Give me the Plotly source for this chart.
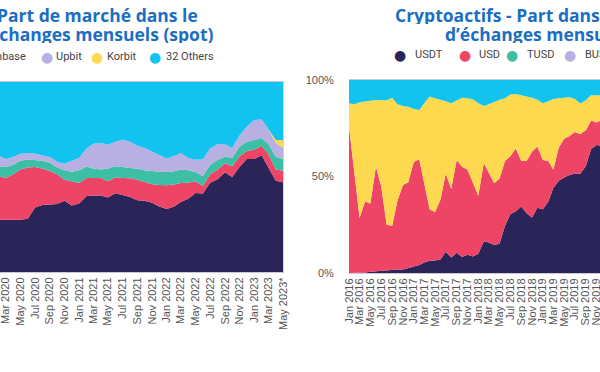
import plotly.graph_objects as go
import pandas as pd

# ---------------- data: left chart (exchange market share, spot) ----------------
left_months = pd.date_range("2020-01-01", "2023-05-01", freq="MS")
left_names = ["Binance", "Huobi", "Coinbase", "Upbit", "Korbit", "32 Others"]
binance = [27.5, 27.5, 27.8, 27.5, 27.5, 28.0, 34.0, 35.2, 35.5, 35.8, 37.5, 35.0, 36.0, 40.0,
           40.3, 40.3, 39.2, 41.5, 40.5, 39.5, 37.8, 37.5, 36.5, 34.5, 33.2, 34.5, 36.8, 38.5,
           41.6, 41.3, 47.0, 48.8, 52.5, 50.0, 55.4, 59.5, 59.5, 61.5, 55.0, 48.0, 47.2]
huobi = [23.0, 22.9, 21.7, 24.0, 26.5, 27.0, 21.2, 19.3, 17.7, 15.7, 11.0, 12.7, 10.8, 9.5,
         9.2, 9.2, 8.5, 8.3, 9.0, 9.8, 10.7, 9.8, 9.7, 11.3, 12.4, 11.5, 10.0, 8.5,
         6.1, 4.0, 4.5, 5.0, 4.7, 5.6, 5.4, 4.2, 4.8, 5.0, 7.0, 6.0, 6.1]
coinbase = [6.0, 5.6, 5.7, 5.0, 4.5, 4.2, 3.8, 4.0, 4.3, 3.5, 5.0, 5.1, 6.7, 6.0,
            5.0, 4.5, 6.8, 5.8, 5.7, 5.5, 5.8, 6.2, 6.8, 7.0, 7.0, 7.0, 7.1, 6.5,
            4.8, 5.2, 5.0, 5.2, 3.6, 4.4, 5.2, 4.8, 5.2, 4.0, 5.5, 6.5, 6.2]
upbit = [4.5, 5.0, 4.3, 4.0, 3.8, 3.4, 3.3, 3.0, 3.0, 3.0, 3.5, 5.8, 6.5, 9.5,
         13.0, 13.9, 12.5, 12.9, 14.4, 13.7, 12.2, 11.8, 10.5, 9.0, 7.2, 8.0, 8.7, 6.5,
         6.6, 8.7, 8.5, 8.4, 6.4, 5.3, 6.0, 8.0, 10.5, 9.7, 7.5, 7.5, 5.8]
korbit = [0, 0, 0, 0, 0, 0, 0, 0, 0, 0, 0, 0, 0, 0,
          0, 0, 0, 0, 0, 0, 0, 0, 0, 0, 0, 0, 0, 0,
          0, 0, 0, 0, 0, 0, 0, 0, 0, 0, 0, 1.5, 4.0]
others32 = [39.0, 39.0, 40.5, 39.5, 37.7, 37.4, 37.7, 38.5, 39.5, 42.0, 43.0, 41.4, 40.0, 35.0,
            32.5, 32.1, 33.0, 31.5, 30.4, 31.5, 33.5, 34.7, 36.5, 38.2, 40.2, 39.0, 37.4, 40.0,
            40.9, 40.8, 35.0, 32.6, 32.8, 34.7, 28.0, 23.5, 20.0, 19.8, 25.0, 30.5, 30.7]
left_ticks = pd.date_range("2020-03-01", "2023-05-01", freq="2MS")
left_ticktext = ["Mar 2020", "May 2020", "Jul 2020", "Sep 2020", "Nov 2020", "Jan 2021", "Mar 2021",
                 "May 2021", "Jul 2021", "Sep 2021", "Nov 2021", "Jan 2022", "Mar 2022", "May 2022",
                 "Jul 2022", "Sep 2022", "Nov 2022", "Jan 2023", "Mar 2023", "May 2023*"]

# ---------------- data: right chart (crypto assets share) ----------------
right_months = pd.date_range("2016-01-01", "2019-12-01", freq="MS")
right_names = ["USDT", "USD", "TUSD", "BUSD", "Autres devises", "Autres"]
usdt = [0, 0, 0, 0.3, 0.6, 0.9, 1.0, 1.2, 1.5, 1.8, 1.8, 2.5, 3.3, 4.2, 5.5, 6.4,
        6.5, 7.0, 11.0, 8.0, 10.5, 8.3, 9.5, 8.5, 10.0, 16.5, 15.8, 14.5, 15.2, 24.5, 30.5, 32.0,
        34.5, 31.0, 28.8, 33.8, 33.0, 37.0, 44.0, 47.8, 49.5, 50.8, 51.6, 51.4, 55.5, 64.2, 66.3, 66.0]
usd = [75.8, 50.0, 28.5, 36.7, 35.4, 54.1, 44.0, 23.8, 23.0, 35.7, 43.8, 44.5, 54.2, 54.8, 41.0, 26.6,
       25.0, 31.0, 40.6, 35.5, 48.0, 46.7, 44.0, 38.5, 30.0, 40.5, 36.2, 32.0, 33.8, 33.5, 30.0, 32.5,
       23.5, 27.0, 34.2, 31.7, 25.5, 21.0, 9.5, 17.2, 20.0, 20.2, 21.4, 20.6, 18.5, 14.8, 11.7, 13.3]
tusd = [0, 0, 0, 0, 0, 0, 0, 0, 0, 0, 0, 0, 0, 0, 0, 0,
        0, 0, 0, 0, 0, 0, 0, 0, 0, 0, 0, 0, 0, 0, 0, 0,
        0, 0, 0, 0, 0, 0, 0, 0, 0, 0, 0, 0, 0, 0, 0, 0]
busd = [0, 0, 0, 0, 0, 0, 0, 0, 0, 0, 0, 0, 0, 0, 0, 0,
        0, 0, 0, 0, 0, 0, 0, 0, 0, 0, 0, 0, 0, 0, 0, 0,
        0, 0, 0, 0, 0, 0, 0, 0, 0, 0, 0, 0, 0, 0, 0, 0]
other_fiat = [12.1, 37.5, 60.0, 52.1, 53.3, 34.6, 44.5, 64.5, 66.3, 50.0, 40.9, 39.2, 27.5, 25.5, 41.5, 58.4,
              59.0, 51.8, 37.4, 44.4, 31.0, 35.8, 37.0, 43.0, 48.0, 29.5, 35.5, 42.3, 40.8, 32.5, 32.0, 28.3,
              34.2, 33.5, 27.8, 24.3, 29.5, 31.0, 36.7, 25.5, 21.3, 20.0, 17.2, 15.8, 15.5, 13.2, 14.0, 12.9]
other = [12.1, 12.5, 11.5, 10.9, 10.7, 10.4, 10.5, 10.5, 9.2, 12.5, 13.5, 13.8, 15.0, 15.5, 12.0, 8.6,
         9.5, 10.2, 11.0, 12.1, 10.5, 9.2, 9.5, 10.0, 12.0, 13.5, 12.5, 11.2, 10.2, 9.5, 7.5, 7.2,
         7.8, 8.5, 9.2, 10.2, 12.0, 11.0, 9.8, 9.5, 9.2, 9.0, 9.8, 12.2, 10.5, 7.8, 8.0, 7.8]
right_ticks = pd.date_range("2016-01-01", "2019-11-01", freq="2MS")
right_ticktext = [d.strftime("%b %Y") for d in right_ticks]
right_yticks = [0, 50, 100]
right_yticktext = ["0%", "50%", "100%"]

# ---------------- styles ----------------
NAVY, RED, TEAL, LAV, YEL, CYAN = "#2a2459", "#ee4466", "#3cbfa4", "#b8afe2", "#fdd94f", "#12c2ef"
left_colors = [NAVY, RED, TEAL, LAV, YEL, CYAN]
right_colors = [NAVY, RED, TEAL, LAV, YEL, CYAN]
W, H = 600, 372
TITLE_BLUE = "#1b6ec2"
TICK_GREY = "#555555"


def px(x):
    return x / W


def py(y):
    return 1 - y / H


fig = go.Figure()
for name, vals, col in zip(left_names, [binance, huobi, coinbase, upbit, korbit, others32], left_colors):
    fig.add_trace(go.Scatter(x=left_months, y=vals, name=name, mode="lines", stackgroup="left",
                             groupnorm="percent", line=dict(width=0, color=col), fillcolor=col,
                             xaxis="x", yaxis="y", showlegend=False))
for name, vals, col in zip(right_names, [usdt, usd, tusd, busd, other_fiat, other], right_colors):
    fig.add_trace(go.Scatter(x=right_months, y=vals, name=name, mode="lines", stackgroup="right",
                             groupnorm="percent", line=dict(width=0, color=col), fillcolor=col,
                             xaxis="x2", yaxis="y2", showlegend=False))

tickfont = dict(family="Liberation Sans, Arial, sans-serif", size=11, color=TICK_GREY)
fig.update_layout(
    width=W, height=H, margin=dict(l=0, r=0, t=0, b=0, autoexpand=False),
    paper_bgcolor="white", plot_bgcolor="white", showlegend=False,
    xaxis=dict(domain=[0, px(283)], range=["2020-02-06", "2023-05-01"], type="date",
               tickvals=left_ticks, ticktext=left_ticktext, tickangle=-90, tickfont=tickfont,
               ticklabeloverflow="allow",
               showgrid=False, showline=True, linecolor="#c9c9c9", linewidth=1, mirror=True,
               ticks="", zeroline=False),
    yaxis=dict(domain=[py(272), py(82)], range=[0, 100], showticklabels=False, showgrid=False,
               showline=True, linecolor="#d5d5d5", mirror=True, zeroline=False, anchor="x"),
    xaxis2=dict(domain=[px(349), 1], range=["2016-01-01", "2019-11-20"], type="date",
                tickvals=right_ticks, ticktext=right_ticktext, tickangle=-90, tickfont=tickfont,
                ticklabeloverflow="allow",
                showgrid=False, showline=True, linecolor="#c9c9c9", linewidth=1, mirror=True,
                ticks="", zeroline=False, anchor="y2"),
    yaxis2=dict(domain=[py(273), py(80)], range=[0, 100], tickvals=right_yticks, ticktext=right_yticktext,
                tickfont=tickfont, showgrid=False, showline=False, zeroline=False,
                ticks="outside", ticklen=12, tickcolor="rgba(0,0,0,0)", anchor="x2"),
)

titlefont = dict(family="Open Sans, sans-serif", size=17.5, color=TITLE_BLUE, weight="bold")
ann = []
# left title (cropped on the left)
ann.append(dict(text="Part de marché dans le", x=px(200), y=py(15), xanchor="right", yanchor="middle"))
ann.append(dict(text="d’échanges mensuels (spot)", x=px(216), y=py(34), xanchor="right", yanchor="middle"))
# right title (cropped on the right)
ann.append(dict(text="Cryptoactifs - Part dans le volume", x=px(393), y=py(15), xanchor="left", yanchor="middle"))
ann.append(dict(text="d’échanges mensuels", x=px(443), y=py(34), xanchor="left", yanchor="middle"))
for a in ann:
    a.update(xref="paper", yref="paper", showarrow=False, font=titlefont, height=18)
fig.update_layout(annotations=ann)

legfont = dict(family="Roboto, Inter, sans-serif", size=11, color="#444444")
markfont = dict(family="DejaVu Sans", size=14)
# left legend items (text right edge of first item, then marker center / text left)
leg_left = [("Upbit", LAV, 47, 54), ("Korbit", YEL, 96.5, 105), ("32 Others", CYAN, 154.5, 164)]
fig.add_annotation(text="Coinbase", x=px(28), y=py(57), xref="paper", yref="paper",
                   xanchor="right", yanchor="middle", showarrow=False, font=legfont)
for name, col, mx, tx in leg_left:
    fig.add_annotation(text="●", x=px(mx), y=py(57), xref="paper", yref="paper", xanchor="center",
                       yanchor="middle", showarrow=False, font=dict(markfont, color=col))
    fig.add_annotation(text=name, x=px(tx), y=py(57), xref="paper", yref="paper", xanchor="left",
                       yanchor="middle", showarrow=False, font=legfont)
leg_right = [("USDT", NAVY, 400, 413), ("USD", RED, 465, 477), ("TUSD", TEAL, 512, 525), ("BUSD", LAV, 570, 583)]
for name, col, mx, tx in leg_right:
    fig.add_annotation(text="●", x=px(mx), y=py(55), xref="paper", yref="paper", xanchor="center",
                       yanchor="middle", showarrow=False, font=dict(markfont, color=col))
    fig.add_annotation(text=name, x=px(tx), y=py(55), xref="paper", yref="paper", xanchor="left",
                       yanchor="middle", showarrow=False, font=legfont)

fig.write_html("out.html", config={"displayModeBar": False},
               post_script="document.body.style.margin='0';document.body.style.overflow='hidden';")
